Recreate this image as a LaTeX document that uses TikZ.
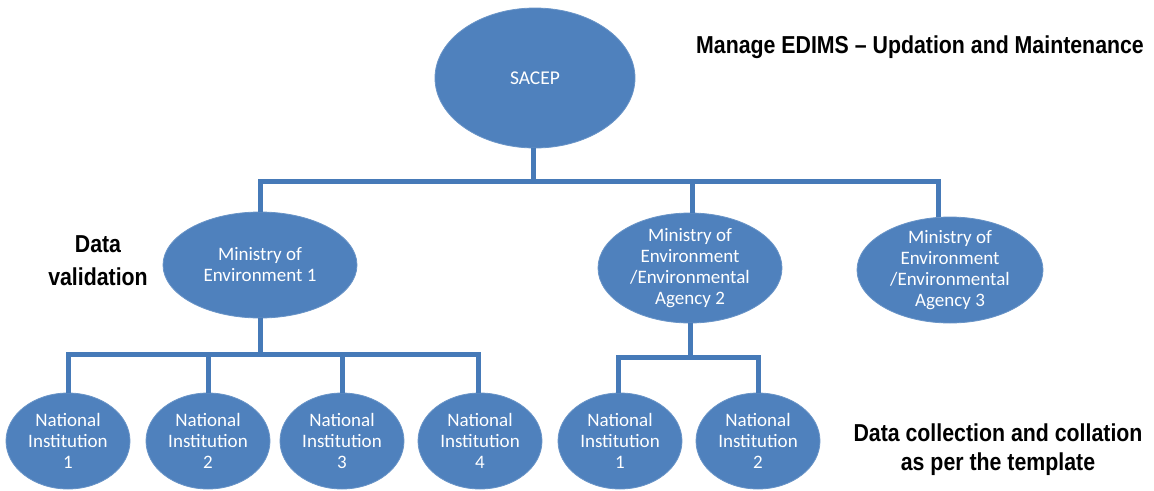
\documentclass[tikz,border=0pt]{standalone}
\usepackage{fontspec}
\usetikzlibrary{shapes.geometric}
\newfontfamily\calfont{Carlito}
\newfontfamily\hdfont{Liberation Sans}[FakeStretch=0.87,Ligatures=TeX]
\definecolor{ellblue}{RGB}{79,129,189}
\definecolor{lineblue}{RGB}{70,122,184}
\tikzset{
  ell/.style={ellipse, fill=ellblue, draw=ellblue!85!white, line width=0.8pt, inner sep=0pt},
  txt/.style={font=\calfont\fontsize{19}{21}\selectfont, text=white, align=center, inner sep=0pt},
  conn/.style={draw=lineblue, line width=5pt},
  head/.style={font=\hdfont\bfseries\fontsize{24.5}{29}\selectfont, text=black, align=center, inner sep=0pt},
}
\begin{document}
\begin{tikzpicture}[x=1pt,y=-1pt]
\useasboundingbox (0,0) rectangle (1154,490);
% top
\node[ell, minimum width=200pt, minimum height=140pt,
  label={[txt,font=\calfont\fontsize{19.5}{21}\selectfont]center:SACEP}] (sacep) at (535,78) {};
% ministries
\node[ell, minimum width=194pt, minimum height=106pt,
  label={[txt]center:{Ministry of\\Environment 1}}] (m1) at (260,265) {};
\node[ell, minimum width=184pt, minimum height=110pt,
  label={[txt]center:{Ministry of\\Environment\\/Environmental\\Agency 2}}] (m2) at (690,268) {};
\node[ell, minimum width=186pt, minimum height=106pt,
  label={[txt]center:{Ministry of\\Environment\\/Environmental\\Agency 3}}] (m3) at (950,270) {};
% national institutions
\foreach \nm/\xx/\num in {n1/68/1, n2/208/2, n3/342/3, n4/480/4, p1/620/1, p2/758/2}{
  \node[ell, minimum width=124pt, minimum height=96pt,
    label={[txt]center:{National\\Institution\\\num}}] (\nm) at (\xx,441) {};
}
% connectors
\coordinate (busA) at (533,181);
\draw[conn] ([xshift=-2pt]sacep.south) -- (busA);
\draw[conn] (busA) -| (m1.north);
\draw[conn] (busA) -| ([xshift=2pt]m2.north);
\draw[conn] (busA) -| ([xshift=-12pt]m3.north);
\coordinate (busB) at (260,354);
\draw[conn] (m1.south) -- (busB);
\draw[conn] (busB) -| (n1.north);
\draw[conn] (busB) -| (n2.north);
\draw[conn] (busB) -| (n3.north);
\draw[conn] (busB) -| ([xshift=-2pt]n4.north);
\coordinate (busC) at (690,357);
\draw[conn] (m2.south) -- (busC);
\draw[conn] (busC) -| ([xshift=-2pt]p1.north);
\draw[conn] (busC) -| (p2.north);
% labels
\node[head, anchor=base] (t1) at (920,53) {Manage EDIMS – Updation and Maintenance};
\node[head, font=\hdfont\bfseries\fontsize{24.5}{33}\selectfont] (t2) at (98,261) {Data\\validation};
\node[head] (t3) at (998,450) {Data collection and collation\\as per the template};
\end{tikzpicture}
\end{document}
